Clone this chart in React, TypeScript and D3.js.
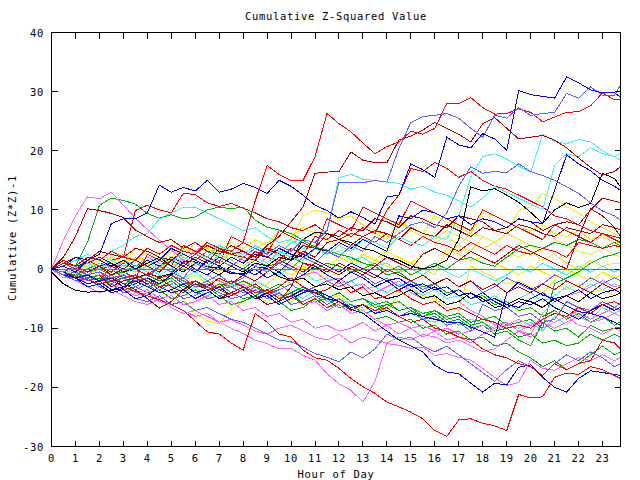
import React from 'react';
import * as d3 from 'd3';

// Hours: half-hour samples 0..23.5 plus the final 23.75 reading
const HOURS: number[] = d3.range(48).map((i) => i / 2).concat([23.75]);
const X_TICKS: number[] = d3.range(0, 24);
const Y_TICKS: number[] = [-30, -20, -10, 0, 10, 20, 30, 40];

const TITLE = 'Cumulative Z-Squared Value';
const X_LABEL = 'Hour of Day';
const Y_LABEL = 'Cumulative (Z*Z)-1';

const R1 = [0,1,0.5,2,1.5,3,2,1.5, 3.5,2.5,4,3,2.5,4.5,3.5,3, 4.5,11.5,17.5,16,15,15,19,26.3, 24.6,23.2,21.3,19.5,20.7,21.5,23.3,22.8, 23.8,28,28,29,27.3,26.2,26.3,27.1, 26.5,24.9,25.7,26.5,26.6,27.6,29.8,28.6, 28.6];
const B1 = [0,-0.5,0.5,-1,-0.5,-1.5,-1,-2, -1.5,0.5,-0.5,-1.5,1,0,1.5,0.5, 2,3.5,2.5,4,3,5,4.5,6.5, 14.7,14.7,14.6,15,14.7,20.4,24.8,25.8, 26,26.3,25.5,23.8,22.3,26,25.5,27.3, 26,26.3,26.5,29.7,28.9,30.8,29.4,29.4, 31.1];
const DB1 = [0,0.5,-0.5,1.5,2.5,7.7,8.5,8.5, 9.5,14.2,13,13.8,13.2,15,13,13.5, 14.5,13.8,12.8,15,14,12.5,10.8,9.9, 8.6,9.7,8.7,7.6,12.2,12.5,17.8,16.8, 15.5,22.3,21,20.5,22.9,22,20.1,30.2, 29.5,29.2,28.9,32.5,31.5,30.3,29.8,29.8, 29.1];
const DR1 = [0,1.5,0.5,-0.5,0.5,-1,0,1.5, 0.5,-0.5,1.5,0.5,2,1,3.5,2.5, 3,2,4,5.5,8,10.5,16.2,16.4, 16.5,19.8,18.4,18,18,21.8,22.5,23.5, 24.8,23.8,22.8,21.5,24.6,25.6,23.8,22, 22.3,22.6,21.8,20.5,18.8,17.2,15.9,16.5, 17.3];
const C1 = [0,-1,0.5,-0.5,1,0,-1,0.5, -0.5,1,0,2,1,0.5,2.5,1.5, 3,2,1,3,2,1.5,3.5,2.5, 4,3,5,4.5,3.5,5.5,4.5,4, 5.5,5,9,15.6,19,19.5,18.6,17.4, 16.4,22.8,21.6,21.2,21.9,21.5,20,19, 18.4];
const C2 = [0,0.5,-0.5,1,0,1.5,0.5,1.5, 0.5,2,1,3,2.5,2,4,3, 2.5,4,3,2.5,4.5,5,6,6.5, 15.5,16,15.2,15,14.7,14.5,13.5,14, 13,12.5,11.5,10.5,12,14,13,12, 11,10,17.5,19.5,19,20.5,19.5,19, 19.6];
const K1 = [0,1,0.5,2,1.5,0.5,1.5,0, 1,2,0.5,-0.5,1,0,-1,0.5, -0.5,1,0.5,2,1.5,5,6.2,6, 5,4.5,3.5,3,2,1.5,0.5,0, 0.5,1.5,5,13.9,13.2,13.6,12.5,11.3, 9.6,7.7,10,11.2,10.4,11.1,16.2,15.3, 13.9];
const DB2 = [0,-0.5,-1.5,-1,-2,-1.5,-3,-2.5, -1.5,-2.5,-1,0.5,-0.5,1.5,0.5,2, 1,2.5,2,3.5,2.5,2,3.5,3, 4.5,3.5,5,4,3,9,8.5,10, 9.5,8.5,9,7.5,8.5,8,7,8.5, 8,7.7,13.3,19.3,17.8,16.6,15,14, 13.3];
const DR2 = [0,1,2,1.5,3,2.5,2,3.5, 3,2,1.5,3,2.5,4,3,2.5, 2,1.5,3.5,3,2,4,3.5,6, 5.5,7,6.5,8.5,8,7,9,8.5, 7.5,7,9,8.5,8,6.5,7,8.5, 8,6.5,7.5,8,7.5,10,12,11.5, 11.2];
const R2 = [0,1,0,1.5,0.5,-0.5,1,0, -1,0.5,-0.5,1,2.5,1.5,0.5,2, 1,3,2,1.5,3.5,2.5,5.5,5, 6.5,5.5,7,6,10,12.5,17,16.5, 18,17,15.5,16.5,15,14,13.5,12.5, 11.5,10.5,9,8.5,7.5,6.5,6,5.5, 5.2];
const R3 = [0,0.5,-0.5,1,0,1.5,2,9.9, 10.8,10,9.5,12.8,12.6,11.2,10.6,11.1, 10.3,9.5,8.5,8,7,6.5,7.5,6, 5,6,5.5,4.5,6,5,4,5.5, 4.5,4,3,4.5,3.5,2.5,4,3, 2.5,3.5,3,2,4.5,4,3.5,4, 3.7];
const B2 = [0,-1,-0.5,-2,-1,-2.5,-1.5,-3, -2,-3.5,-2.5,-1.5,-3,-2,-1,-2.5, -1.5,0.5,-0.5,1,0,2,1,3, 2,4,3,5.5,4.5,6,7.5,8, 7,9.5,14,17.3,16.2,16.5,16.3,17.8, 16.5,15.8,15,13.9,12.8,11.2,9.8,9, 8.3];
const DR3 = [0,2,5.5,10.2,9.9,9.4,8.7,6.6, 5.5,4.5,5,3.5,4.5,3,2.5,4, 3,2,3.5,2.5,1.5,3,2,4.5, 5,4,5.5,6.5,6,5,7,6, 5.5,7.5,6.5,5.5,7,6.5,6,7.5, 7,6,5.5,7,6.5,6,7.5,7, 6.6];
const Y1 = [0,-0.5,0.5,-1,0,1,0.5,-0.5, 1,0,2,1.5,0.5,2,1,3, 2,3.5,4.5,3.5,5,9,10,9.5, 8.5,9,7.5,6.5,5.5,5,6.5,5.5, 4.5,5.5,4,6,9.5,9,8,7, 6.5,7.5,6,5.5,6.5,5,5.5,4.5, 4.6];
const G1 = [0,1,0.5,4.5,10.8,12,11.6,11, 9.4,8.6,9.2,8.5,8.8,10,10.5,10.2, 10.5,8.3,7.1,6.6,6,4.9,3.7,3.2, 2.5,2,1,0.5,-1,-0.5,-2,-3, -2.5,-4,-3.5,-5,-4.5,-6,-5.5,-7, -6.5,-8,-7,-8.5,-7.5,-9,-8,-9.5, -8.9];
const G2 = [0,-0.5,-1.5,-1,-2,-1,-2.5,-2, -3,-2.5,-1.5,-3,-2,-3.5,-2.5,-4, -3,-4.5,-3.5,-2.5,-4,-3,-4.5,-5, -4,-5.5,-5,-6.5,-6,-7,-6.5,-7.5, -7,-8,-7.5,-9,-8.5,-8,-9.5,-9, -8.5,-10,-2.5,-1.5,-0.5,1,2,2.5, 2.9];
const Y2 = [0,1,0,-1,0.5,-0.5,1,0, -1,0.5,-0.5,-2,-1,-2.5,-1.5,-3, -2,-3.5,-2.5,-1,-2.5,-1.5,0,-1, 1,0,2.5,1.5,3,7.5,7,6, 5,6.5,5.5,4.5,3.5,4.5,3,2, 3,1.5,2.5,1,0,1.5,0.5,1, 0.9];
const DR4 = [0,-1,-0.5,-2,-1,-3,-2,-1.5, -2.5,-1.5,-3,-4,-2.5,-3.5,-5,-4, -3,-4.5,-6,-5.5,-3,1,0.5,-0.5, 1,0,-1,0.5,2,1,0,2.5, 3.5,2.5,1.5,3,2,1,2.5,4, 3,2,1,0,5.5,10.2,9,7, 5.5];
const Y3 = [0,-1,0,1,0.5,2,1,3.5, 2.5,1.5,3,2,4.5,3.5,2.5,1.5, 0.5,2,1,0,-1,0.5,-0.5,-1.5, -0.5,1,2.5,1.5,0.5,-0.5,1,0, -1,3.5,2.5,1.5,2,1,0,-1, 0.5,-0.5,-1.5,0,-1,-2,-0.5,-1.5, -1];
const M1 = [0,-0.5,-1.5,-1,0.5,-0.5,1.5,0.5, 2,1,0,1.5,3,4.5,3.5,2.5, 1.5,0.5,2,1,0,-1,-0.5,-2, -1.5,-3,-2.5,-4,-3,-2,-4,-5, -4.5,-6,-5.5,-7,-8,-9.5,-9,-10.5, -11,-7.5,-5.5,-4.5,-4,-3,-2,-3, -2.7];
const Y4 = [0,0.5,1.5,1,2.5,1.5,0.5,2, 1,-1,-3,-5,-7.5,-8.7,-9.3,-6.8, -5.5,-4.5,-5.5,-4.5,-5.5,-3,-4,-5, -4.5,-6,-7,-6,-7.5,-4,-3,-4.5, -5,-6.5,-7,0.5,-0.5,-1.5,-2.5,-2, -3,-4,-2,-3.5,-2.5,-4,-3.5,-4.5, -4];
const B3 = [0,-1,-2,-1.5,-3,-2.5,-4,-3.5, -2.5,-4,-3.5,-5,-4.5,-3,-4,-5, -4.5,-3.5,-5,-4,-6,-5.5,-4.5,-6, -5,-6.5,-6,-7.5,-6.5,-8,-7,-8.5, -8,-9.5,-9,-10.5,-6,-7,-6.5,-8, -7.5,-9,-8.5,-5.5,-6.5,-7,-5.5,-6.5, -5.8];
const C3 = [0,-1,-0.5,-2,-1.5,-2.5,-4,-3, -2,-3.5,-2.5,-4,-3,-4.5,-3.5,-2.5, -3.5,-2,-3,-4.5,-4,-5,-3.5,-5.5, -5,-6,-6.5,-5.5,-7,-8,-7.5,-8.5, -9,-8,-9.5,-8.5,-9,-10,-9.5,-10, -9,-10.5,-8,-9.5,-7.5,-8.5,-6.5,-7.5, -7];
const G3 = [0,0.5,-0.5,-1.5,-1,-2,-1.5,-2.5, -1.5,-3,-2,-3.5,-2.5,-3,-4.5,-4, -5,-4.5,-3.5,-5,-4,-6,-5.5,-5, -6.5,-6,-7.5,-7,-6,-5.5,-7,-8, -7.5,-9,-8.5,-10,-9.5,-11,-10.5,-12, -13,-9,-10.5,-10,-11.5,-9.5,-10.5,-10, -9.8];
const M2 = [0,-1,-2,-3,-4,-3.5,-4.5,-5.5, -6,-5,-6.5,-7.5,-7,-8,-9,-8.5, -9.5,-10.5,-11,-10,-9.5,-10.5,-11.5,-12, -11,-12.5,-11.5,-12,-12.5,-11.5,-12,-11, -11.5,-12.5,-12,-13,-14,-13.5,-12,-10.5, -11.5,-10,-9,-8,-9.5,-10,-11,-10, -10.5];
const R4 = [0,1,0,-1,-0.5,-2,-1,0.5, -0.5,-1.5,-1,-2.5,-2,-3.5,-3,-2, -3,-4,-3.5,-5,-4.5,-6,-5,-6.5, -5.5,-7,-6,-7,-6.5,-8,-9,-8.5, -10,-10.5,-11.5,-12,-13.5,-14.5,-15,-16, -16.5,-18,-16,-17,-16,-15.5,-12,-12.5, -13.5];
const DB3 = [0,-1,-1.5,-3,-2.5,-4,-3.5,-5, -4.5,-3,-4,-3.5,-5,-4,-3,-4.5, -3.5,-5,-4.5,-6,-5,-4,-3.5,-4.5, -5.5,-6.5,-6,-7.5,-7,-8,-7.5,-8, -8.5,-9,-9,-9.8,-10.6,-11.5,-4.1,-2.2, -3.3,-4.4,-5,-6.2,-7.2,-7.5,-8.1,-9, -9.5];
const M3 = [0,-0.5,-2,-1.5,-3,-2.5,-3.5,-4.5, -4,-5.5,-6,-7,-8,-7.5,-9,-10, -10.9,-12,-12.6,-13.5,-13.4,-14.6,-15.4,-17.7, -19.4,-20.5,-22.5,-19,-12.6,-12.9,-13.4,-13.2, -14.6,-14.3,-14.9,-15.4,-16.8,-18.3,-19.7,-19.2, -15.4,-16.8,-17.1,-16,-15,-15.5,-14.5,-15.5, -14.9];
const B4 = [0,-1,-2,-1.5,-3,-4,-3.5,-5, -5.5,-4.5,-6,-5.5,-7,-6.5,-7.5,-8.5, -9,-10,-11,-12,-12.3,-13.2,-14.3,-14.9, -15.7,-14,-15,-13.5,-11,-12,-11.5,-13, -14,-13,-14.5,-16,-17.5,-19,-17,-15.5, -16.5,-18,-16,-14.5,-15.5,-14,-15,-16.5, -16];
const R1B = [0,-0.5,-1.2,-1.8,-2.5,-2,-3,-3.8, -4.5,-5.2,-6,-7,-8.8,-10.6,-11,-12.5, -13.7,-7.5,-9,-11,-11.5,-13.7,-15,-15.4, -16.8,-18.5,-19.9,-21,-22.5,-23.3,-24.2,-25.3, -27.3,-28.3,-25.5,-25.3,-26.1,-26.5,-27.3,-21.2, -21.8,-21.6,-18.3,-17.6,-17.8,-16.5,-17,-18, -18.5];
const DB4 = [0,-1,-1.5,-2.5,-2,-3.5,-3,-2, -3,-4,-3.5,-2.5,-4,-3.5,-5,-4.5, -3.5,-5,-4,-5.5,-4.5,-3.5,-4,-5, -5.5,-6.8,-7.5,-9,-10.5,-12,-13,-14, -16.3,-17.4,-17.7,-19.3,-20.8,-19.3,-19.6,-16.6, -16.2,-18.3,-20,-20.8,-18.5,-17.2,-17.5,-17.8, -18];
const G4 = [0,-0.5,-1,-2,-1.5,-2.5,-3.5,-3, -4,-3.5,-5,-4.5,-3.5,-5,-4.5,-6, -5.5,-4.5,-6,-5.5,-7,-6.5,-5,-6.5, -6,-7.5,-7,-8.5,-8,-9,-8.5,-10, -9.5,-11,-10.5,-12,-11.5,-13,-12.5,-14, -15,-16.5,-15.5,-17,-16,-14.5,-13,-14.5, -14];
const G5 = [0,1,0.5,-0.5,0,-1,-0.5,-1.5, -1,-2,-1.5,-3,-2,-3.5,-2.5,-3, -2,-3,-4,-3.5,-2.5,-4,-3.5,-5, -4,-5.5,-5,-6,-5.5,-7,-6.5,-8, -7,-8.5,-8,-9.5,-9,-10.5,-10,-11.5, -11,-12.5,-12,-13,-12.5,-11,-12,-11, -11.5];
const C4 = [0,0.5,1.5,1,0,1.5,0.5,-0.5, 0.5,-1,0,-1.5,-0.5,-2,-1,0.5, -0.5,1,0,-1,0.5,-0.5,-2,-1.5, -2.5,-2,-3.5,-3,-4,-2.5,-3.5,-4.5, -3.5,-5,-4.5,-6,-5.5,-4.5,-6,-5, -4,-5.5,-4.5,-3,-4,-2.5,-3.5,-2.5, -3];
const DB5 = [0,0.5,2,1.5,0.5,1,-0.5,0, 1.5,0.5,2,1,0,-1,0.5,-0.5, -1,0,-1.5,-0.5,-2,-1,0.5,-1, -2,-0.5,-1.5,-3,-2,-3.5,-2.5,-4, -3,-4.5,-3.5,-5,-4,-5.5,-6.5,-5.5, -6,-5,-6.5,-7.5,-8.5,-7,-6,-7, -6.4];
const M4 = [0,4.9,9,12.2,11.9,13,10.8,8.6, 6.7,4.9,3.2,1.5,0,-1,-2,-3, -2.5,-4,-3.5,-5,-4.5,-6,-5.5,-7, -6,-7.5,-7,-8.5,-9.5,-9,-10,-9.5, -10.5,-10,-11,-10.5,-9.5,-10.5,-9.5,-8.5, -9.5,-9,-10,-9,-8,-9,-8.5,-7.5, -8];
const R5 = [0,-1,0.5,-0.5,1,0,-1.5,-1, -2,-3,-2.5,-1.5,-3,-2,-3.5,-4.5, -3.5,-2.5,-4,-3,-1.5,-3,-4,-3.5, -2,-4,-3,-5,-4.5,-3.5,-5,-6, -5.5,-7,-6.5,-7.5,-8.5,-9,-10,-9.5, -10,-8.5,-7.5,-8,-6.5,-7.5,-6,-5.5, -6];
const K0 = [-0.5,-2.5,-3.6,-3.9,-3.8,-3.6,-3.3,-1.5, -0.8,-1.3,-0.8,1.2,1.2,0.4,0.2,-0.8, -0.8,0.4,0.1,-1.3,-2,-1.5,-3,-2.5, -3.5,-3,-4.5,-4,-5,-4.5,-3.5,-5, -4.5,-6,-5.5,-4,-5,-6.5,-6,-5, -5.5,-6.5,-5,-4.5,-5.5,-4,-5,-4.5, -4];
const Y5 = [0,-0.5,0.5,1.5,0.5,-0.5,1,2, 1.5,3,2,3.5,2.5,1.5,3,4.5, 3.5,5,4,6.5,5.5,7,6,5, 4,5.5,7,6,5,8,7,6, 9,8,7,6,5.5,4.5,6,5, 4,3,5,4,3,2.5,3.5,2.5, 2];
const C5 = [0,0.5,1.5,2.5,1.5,3,4,5.5, 6,8.5,9.5,10.4,10.5,9.5,8.5,7.5, 6.5,7,5.5,4.5,5,3.5,4,2.5, 3,1.5,2,0.5,1,-0.5,0,-1, 0.5,-0.5,-1.5,0,-1,-2,-1,0.5, -0.5,1,0,-1,0.5,-0.5,0.5,-0.5, 0];
const B5 = [0,1,2,1,0,0.5,1.5,0.5, -0.5,-1.5,-1,-2,-3,-2.5,-3.5,-3, -4,-3,-4.5,-3.5,-2.5,-4,-3,-2, -3,-2,-1,-2.5,-1.5,-3,-2,-3.5, -2.5,-1.5,-3,-2,-4,-3,-1.5,-2.5, -3.5,-2.5,-1,-2,-3,-1.5,-2.5,-1.5, -2];
const G6 = [0,-0.5,-1,0,1,0.5,-0.5,0.5, 1.5,0.5,1.5,2.5,1.5,3,2,1, 0,1.5,0.5,1,2,1,0,1, 0.5,-0.5,0,1,-0.5,0.5,-1,0, 1,0,1.5,2,1,0.5,2,3.5, 4,3.5,4.5,4,5,4.5,3.5,4.5, 3.9];
const DR5 = [0,-0.5,-1.5,-1,-2,-1.5,-2.5,-3.5, -5,-6.6,-5.5,-3.5,-2,-3,-1.5,-2.5, -1,-2,-0.5,1.5,0.5,-0.5,1,0, -1,0.5,-0.5,-1.5,0,-1,-2,-1, -2.5,-1.5,-3,-2,-3.5,-2.5,-4,-3, -4,-2.5,-3.5,-2,-3,-4,-2.5,-3.5, -3];
const Y6 = [0,0.5,-0.5,0.5,1.5,1,2.5,1.5, 0.5,2,1,0,1.5,0.5,-0.5,1, 0,-1,0.5,-0.5,1,0,1.5,0.5, 2,1,0,1.5,3,2,1,2.5, 3.5,2.5,4,3,5.5,4.5,6,9.9, 10.5,12.8,12,10.5,9.5,8,7,6, 5.5];
const R6 = [0,-0.5,-1.5,-1,-2,0.5,-0.5,-1.5, 2.5,1.5,0.5,4,3,2,1,5.5, 4.5,3.5,2.5,6.5,5.5,4.5,3.5,8.5, 7.5,6.5,10.5,9.5,8.5,7.5,11.5,10.5, 9.5,8.5,7.5,6.5,10,9,8,7, 6,5,7.5,6.5,5.5,4.5,6,5, 4.5];
const M5 = [0,-1.5,-1,-2.5,-2,-3.5,-3,-4, -3.5,-5,-4.5,-6,-5.5,-4.5,-6,-5.5, -7,-6.5,-8,-7.5,-9,-8.5,-10,-9.5, -10.5,-10,-9,-10.5,-9.5,-11,-10,-11.5, -10.5,-12,-11.5,-12.5,-11,-10,-9,-10.5, -9.5,-8.5,-9,-8,-7,-8.5,-7.5,-6.5, -7];
const DB6 = [0,1.5,0.5,1,2,1,0,1.5, 0.5,1.5,3.5,2.5,1.5,0.5,2,1, 0,-1,0.5,-0.5,1.5,2.5,1.5,0.5, -0.5,1,0,-1,-2,-1.5,-3,-2.5, -3.5,-3,-4.5,-4,-5.5,-5,-6,-6.5, -5,-4,-5.5,-4.5,-3.5,-5,-4,-3.5, -4];

const RED = '#ff0000';
const GREEN = '#00b000';
const BLUE = '#0000e8';
const MBLUE = '#6060ff';
const MAGENTA = '#ff60ff';
const CYAN = '#40f0f0';
const DARKRED = '#b00000';
const YELLOW = '#f0f000';
const BLACK = '#000000';

const SERIES: [string, number[]][] = [
  [YELLOW, Y1], [YELLOW, Y2], [YELLOW, Y3], [YELLOW, Y4], [YELLOW, Y5], [YELLOW, Y6],
  [CYAN, C3], [CYAN, C4], [CYAN, C5],
  [GREEN, G1], [GREEN, G2], [GREEN, G3], [GREEN, G4], [GREEN, G5], [GREEN, G6],
  [MAGENTA, M1], [MAGENTA, M2], [MAGENTA, M3], [MAGENTA, M4], [MAGENTA, M5],
  [MBLUE, B3], [MBLUE, B4], [MBLUE, B5],
  [DARKRED, DR2], [DARKRED, DR3], [DARKRED, DR4], [DARKRED, DR5],
  [BLACK, K0],
  [BLUE, DB3], [BLUE, DB4], [BLUE, DB5], [BLUE, DB6],
  [RED, R2], [RED, R3], [RED, R4], [RED, R5], [RED, R6], [RED, R1B],
  [CYAN, C1], [CYAN, C2], [BLACK, K1], [BLUE, DB2], [MBLUE, B2], [DARKRED, DR1],
  [RED, R1], [MBLUE, B1], [BLUE, DB1],
];

const FONT = "'DejaVu Sans Mono', monospace";

export default function App() {
  const W = 640, H = 480;
  const L = 51.5, R = 620.5, T = 32.5, B = 446.5;
  const x = d3.scaleLinear().domain([0, 23.75]).range([L, R]);
  const y = d3.scaleLinear().domain([-30, 40]).range([B, T]);
  const line = d3.line<[number, number]>().x((d) => x(d[0])).y((d) => y(d[1]));
  const tick = 6;
  const textStyle = { fontFamily: FONT, fontSize: 10.5, letterSpacing: 0.68 } as React.CSSProperties;

  return (
    <svg width={W} height={H} viewBox={`0 0 ${W} ${H}`}
      style={{ position: 'absolute', left: 0, top: 0, background: '#fff' }}>
      <rect x={0} y={0} width={W} height={H} fill="#fff" />
      <defs>
        <clipPath id="plot"><rect x={L} y={T} width={R - L} height={B - T} /></clipPath>
      </defs>
      <g clipPath="url(#plot)">
        {SERIES.map(([color, vals], i) => {
          const pts = vals.slice(0, HOURS.length).map((v, j) => [HOURS[j], v] as [number, number]);
          return <path key={i} d={line(pts) || ''} fill="none" stroke={color} strokeWidth={1}
            shapeRendering="crispEdges" />;
        })}
        <line x1={L} x2={R} y1={y(0)} y2={y(0)} stroke={MBLUE} strokeWidth={1} shapeRendering="crispEdges" />
      </g>
      <rect x={L} y={T} width={R - L} height={B - T} fill="none" stroke="#000" strokeWidth={1} shapeRendering="crispEdges" />
      {X_TICKS.map((t) => (
        <g key={'x' + t}>
          <line x1={x(t)} x2={x(t)} y1={B} y2={B - tick} stroke="#000" shapeRendering="crispEdges" />
          <line x1={x(t)} x2={x(t)} y1={T} y2={T + tick} stroke="#000" shapeRendering="crispEdges" />
          <text x={x(t)} y={462} textAnchor="middle" style={textStyle}>{t}</text>
        </g>
      ))}
      {Y_TICKS.map((t) => (
        <g key={'y' + t}>
          <line x1={L} x2={L + tick} y1={y(t)} y2={y(t)} stroke="#000" shapeRendering="crispEdges" />
          <line x1={R} x2={R - tick} y1={y(t)} y2={y(t)} stroke="#000" shapeRendering="crispEdges" />
          <text x={44} y={y(t) + 4} textAnchor="end" style={textStyle}>{t}</text>
        </g>
      ))}
      <text x={336} y={19.5} textAnchor="middle" style={textStyle}>{TITLE}</text>
      <text x={336} y={477.5} textAnchor="middle" style={textStyle}>{X_LABEL}</text>
      <text transform="translate(15.5,238) rotate(-90)" textAnchor="middle" style={textStyle}>{Y_LABEL}</text>
    </svg>
  );
}
